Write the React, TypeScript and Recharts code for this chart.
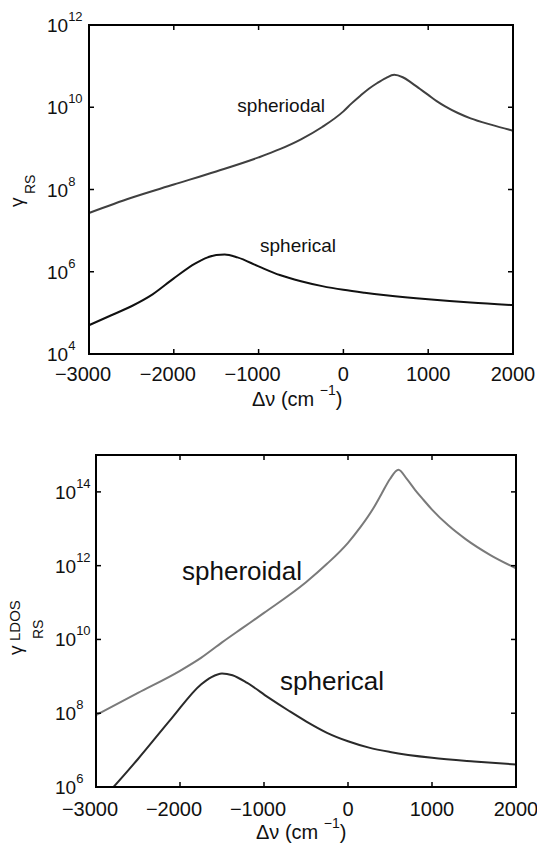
import React from 'react'
import { LineChart, Line, XAxis, YAxis } from 'recharts'

const FONT = '"Liberation Sans", Arial, Helvetica, sans-serif'

// shared x ticks (cm^-1)
const xTicks = [-3000, -2000, -1000, 0, 1000, 2000]
const xDomain: [number, number] = [-3000, 2000]

// top panel: gamma_RS
const topYTicks = [1e4, 1e6, 1e8, 1e10, 1e12]
const topYDomain: [number, number] = [1e4, 1e12]
const topSpheroidalX = [-3000, -2500, -2000, -1500, -1000, -750, -500, -250, 0, 100, 200, 300, 400, 500, 600, 700, 800, 900, 1000, 1100, 1200, 1350, 1500, 1750, 2000]
const topSpheroidalY = [2.69e7, 6.31e7, 1.32e8, 2.75e8, 6.03e8, 9.55e8, 1.66e9, 3.31e9, 7.94e9, 1.26e10, 1.91e10, 2.82e10, 3.89e10, 5.13e10, 6.17e10, 5.37e10, 3.98e10, 2.82e10, 2.0e10, 1.41e10, 1.05e10, 7.24e9, 5.37e9, 3.72e9, 2.69e9]
const topSphericalX = [-3000, -2750, -2500, -2250, -2000, -1750, -1600, -1500, -1400, -1250, -1000, -750, -500, -250, 0, 250, 500, 1000, 1500, 2000]
const topSphericalY = [5.01e4, 8.51e4, 1.45e5, 2.82e5, 6.92e5, 1.58e6, 2.24e6, 2.57e6, 2.63e6, 2.24e6, 1.35e6, 8.32e5, 5.89e5, 4.47e5, 3.63e5, 3.09e5, 2.69e5, 2.14e5, 1.78e5, 1.55e5]

// bottom panel: gamma_RS^LDOS
const botYTicks = [1e6, 1e8, 1e10, 1e12, 1e14]
const botYDomain: [number, number] = [1e6, 1e15]
const botSpheroidalX = [-3000, -2500, -2000, -1750, -1500, -1250, -1000, -500, -250, 0, 150, 300, 400, 500, 600, 700, 800, 900, 1000, 1200, 1400, 1700, 2000]
const botSpheroidalY = [8.91e7, 3.55e8, 1.41e9, 3.16e9, 8.32e9, 2.09e10, 5.25e10, 3.55e11, 1.12e12, 4.17e12, 1.12e13, 3.55e13, 8.91e13, 2.24e14, 3.98e14, 2.24e14, 1.12e14, 6.03e13, 3.31e13, 1.2e13, 5.25e12, 1.91e12, 8.51e11]
const botSphericalX = [-3000, -2800, -2500, -2100, -1750, -1625, -1500, -1375, -1200, -950, -700, -500, -250, 0, 250, 500, 1000, 1500, 2000]
const botSphericalY = [3.16e5, 9.55e5, 5.75e6, 7.24e7, 6.03e8, 9.55e8, 1.2e9, 1.07e9, 6.61e8, 2.69e8, 1.15e8, 6.03e7, 2.95e7, 1.74e7, 1.17e7, 8.91e6, 6.17e6, 4.9e6, 4.07e6]

const zip = (xs: number[], ys: number[]) => xs.map((x, i) => ({ x, y: ys[i] }))

const topSeries = [
  { data: zip(topSpheroidalX, topSpheroidalY), color: '#404040' },
  { data: zip(topSphericalX, topSphericalY), color: '#111111' },
]
const botSeries = [
  { data: zip(botSpheroidalX, botSpheroidalY), color: '#7a7a7a' },
  { data: zip(botSphericalX, botSphericalY), color: '#2a2a2a' },
]

// plot boxes in page pixels (the charts' margins are derived from these)
const topBox = { left: 89, right: 513, top: 25, bottom: 354, pageTop: 0, height: 420 }
const botBox = { left: 96, right: 516, top: 455, bottom: 787, pageTop: 420, height: 426 }

const AXIS_LINE = { stroke: '#000', strokeWidth: 2 }

const xLabel = (v: number) => (v < 0 ? '\u2212' + Math.abs(v) : String(v))

function TopXTick(props: any) {
  const { x, y, payload } = props
  const v = payload.value
  return (
    <text x={v < 0 ? x - 6 : x} y={y + 20} dy="0.71em" textAnchor="middle" fontSize={20} fontFamily={FONT} fill="#111">
      {xLabel(v)}
    </text>
  )
}

function BotXTick(props: any) {
  const { x, y, payload } = props
  const v = payload.value
  return (
    <text x={v < 0 ? x - 6 : x} y={y + 22} dy="0.71em" textAnchor="middle" fontSize={20} fontFamily={FONT} fill="#111">
      {xLabel(v)}
    </text>
  )
}

function PowerLabel({ x, y, value }: { x: number; y: number; value: number }) {
  const exp = Math.round(Math.log10(value))
  return (
    <text x={x} y={y + 7} fontSize={19} fontFamily={FONT} fill="#111">
      10<tspan dy={-11} fontSize={13}>{exp}</tspan>
    </text>
  )
}

function TopYTick(props: any) {
  return <PowerLabel x={47} y={props.y} value={props.payload.value} />
}

function BotYTick(props: any) {
  return <PowerLabel x={55} y={props.y} value={props.payload.value} />
}

interface Box {
  left: number
  right: number
  top: number
  bottom: number
  pageTop: number
  height: number
}

interface PanelProps {
  box: Box
  yDomain: [number, number]
  yTicks: number[]
  xTick: (p: any) => React.ReactElement
  yTick: (p: any) => React.ReactElement
  series: { data: { x: number; y: number }[]; color: string }[]
}

function Panel({ box, yDomain, yTicks, xTick, yTick, series }: PanelProps) {
  const margin = {
    top: box.top - box.pageTop,
    right: 537 - box.right,
    left: box.left,
    bottom: box.pageTop + box.height - box.bottom,
  }
  return (
    <LineChart width={537} height={box.height} margin={margin}>
      <XAxis
        mirror
        dataKey="x"
        type="number"
        domain={xDomain}
        ticks={xTicks}
        interval={0}
        height={1}
        tickSize={5}
        axisLine={AXIS_LINE}
        tickLine={false}
        tick={xTick}
      />
      <YAxis
        mirror
        type="number"
        scale="log"
        domain={yDomain}
        ticks={yTicks}
        interval={0}
        allowDataOverflow
        width={1}
        tickSize={5}
        axisLine={AXIS_LINE}
        tickLine={false}
        tick={yTick}
      />
      {series.map((s, i) => (
        <Line
          key={i}
          data={s.data}
          dataKey="y"
          type="monotone"
          stroke={s.color}
          strokeWidth={2}
          dot={false}
          activeDot={false}
          isAnimationActive={false}
        />
      ))}
    </LineChart>
  )
}

// frame with inward tick marks on all four sides, matching the axis domains
function Frame({ box, yDomain, yTicks }: { box: Box; yDomain: [number, number]; yTicks: number[] }) {
  const w = box.right - box.left
  const h = box.bottom - box.top
  const px = (v: number) => box.left + ((v - xDomain[0]) / (xDomain[1] - xDomain[0])) * w
  const lo = Math.log10(yDomain[0])
  const hi = Math.log10(yDomain[1])
  const py = (v: number) => box.bottom - ((Math.log10(v) - lo) / (hi - lo)) * h
  const t = 5
  return (
    <g stroke="#000" fill="none">
      <rect x={box.left} y={box.top} width={w} height={h} strokeWidth={2} />
      {xTicks.map((v) => (
        <g key={'x' + v} strokeWidth={1.5}>
          <line x1={px(v)} x2={px(v)} y1={box.bottom} y2={box.bottom - t} />
          <line x1={px(v)} x2={px(v)} y1={box.top} y2={box.top + t} />
        </g>
      ))}
      {yTicks.map((v) => (
        <g key={'y' + v} strokeWidth={1.5}>
          <line x1={box.left} x2={box.left + t} y1={py(v)} y2={py(v)} />
          <line x1={box.right} x2={box.right - t} y1={py(v)} y2={py(v)} />
        </g>
      ))}
    </g>
  )
}

export default function App() {
  return (
    <div style={{ position: 'absolute', left: 0, top: 0, width: 537, height: 846, background: '#fff' }}>
      <div style={{ position: 'absolute', left: 0, top: 0 }}>
        <Panel box={topBox} yDomain={topYDomain} yTicks={topYTicks} xTick={TopXTick} yTick={TopYTick} series={topSeries} />
      </div>
      <div style={{ position: 'absolute', left: 0, top: 420 }}>
        <Panel box={botBox} yDomain={botYDomain} yTicks={botYTicks} xTick={BotXTick} yTick={BotYTick} series={botSeries} />
      </div>
      <svg
        width={537}
        height={846}
        style={{ position: 'absolute', left: 0, top: 0, pointerEvents: 'none' }}
        fontFamily={FONT}
        fill="#111"
      >
        <Frame box={topBox} yDomain={topYDomain} yTicks={topYTicks} />
        <Frame box={botBox} yDomain={botYDomain} yTicks={botYTicks} />

        {/* top panel texts */}
        <text x={325} y={112} fontSize={19} textAnchor="end">spheriodal</text>
        <text x={260} y={252} fontSize={19}>spherical</text>
        <text x={252} y={406} fontSize={20}>
          Δν (cm <tspan dy={-11} fontSize={14}>−1</tspan><tspan dy={11}>)</tspan>
        </text>
        <g transform="translate(0,207) rotate(-90)">
          <text x={0} y={23} fontSize={19}>γ</text>
          <text x={13} y={35} fontSize={14}>RS</text>
        </g>

        {/* bottom panel texts */}
        <text x={302} y={580} fontSize={26} textAnchor="end">spheroidal</text>
        <text x={280} y={690} fontSize={26}>spherical</text>
        <text x={256} y={839} fontSize={20}>
          Δν (cm <tspan dy={-11} fontSize={14}>−1</tspan><tspan dy={11}>)</tspan>
        </text>
        <g transform="translate(0,655) rotate(-90)">
          <text x={0} y={22} fontSize={19}>γ</text>
          <text x={14} y={20} fontSize={15}>LDOS</text>
          <text x={16} y={43} fontSize={14}>RS</text>
        </g>
      </svg>
    </div>
  )
}
